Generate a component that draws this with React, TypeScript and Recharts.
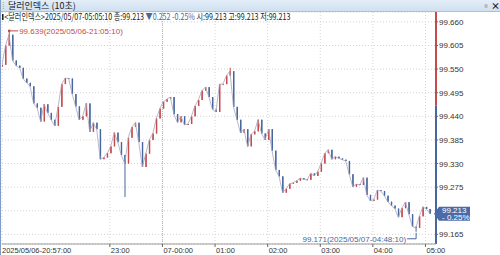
import { ComposedChart, Bar, Line, XAxis, YAxis, CartesianGrid, ReferenceLine, ReferenceDot } from 'recharts';

// 4-minute buckets starting 2025/05/06 20:57, closing prices
const closes = [
  99.560, 99.605, 99.630, 99.570, 99.558, 99.553, 99.528, 99.518, 99.510, 99.470,
  99.460, 99.428, 99.468, 99.448, 99.432, 99.418, 99.462, 99.515, 99.529, 99.528,
  99.492, 99.463, 99.432, 99.440, 99.470, 99.404, 99.425, 99.410, 99.340, 99.344,
  99.354, 99.370, 99.402, 99.380, 99.350, 99.330, 99.390, 99.415, 99.425, 99.380,
  99.322, 99.353, 99.385, 99.400, 99.435, 99.458, 99.474, 99.480, 99.485, 99.445,
  99.426, 99.440, 99.420, 99.422, 99.440, 99.464, 99.478, 99.500, 99.508, 99.485,
  99.456, 99.450, 99.515, 99.515, 99.535, 99.545, 99.462, 99.432, 99.401, 99.410,
  99.370, 99.398, 99.405, 99.432, 99.400, 99.385, 99.410, 99.360, 99.315, 99.300,
  99.262, 99.271, 99.283, 99.285, 99.290, 99.296, 99.293, 99.292, 99.307, 99.301,
  99.311, 99.330, 99.354, 99.362, 99.340, 99.346, 99.342, 99.339, 99.336, 99.305,
  99.276, 99.282, 99.280, 99.297, 99.257, 99.243, 99.246, 99.268, 99.266, 99.255,
  99.241, 99.232, 99.225, 99.205, 99.226, 99.240, 99.212, 99.183, 99.180, 99.207,
  99.229, 99.224, 99.213,
];
const firstOpen = 99.556;
const wickHighs: [number, number][] = [[2, 99.639], [65, 99.553]];
const wickLows: [number, number][] = [[35, 99.252], [118, 99.171]];

const priceTicks = [99.165, 99.22, 99.275, 99.33, 99.385, 99.44, 99.495, 99.55, 99.605, 99.66];
const timeTicks = [0, 123, 183, 243, 303, 363, 423, 483];
const timeLabels = ['2025/05/06-20:57:00', '23:00', '07-00:00', '01:00', '02:00', '03:00', '04:00', '05:00'];

const prevClose = 99.465;
const lastPrice = 99.213;
const lastChangePct = '- 0.25%';
const highMark = { m: 8.17, value: 99.639, label: '99.639(2025/05/06-21:05:10)' };
const lowMark = { m: 471.17, value: 99.171, label: '99.171(2025/05/07-04:48:10)' };

const BUCKET = 4;
const X_MAX = 495;
const Y_MIN = 99.1425;
const Y_MAX = 99.683;

const RED = '#c64a4a';
const BLUE = '#46679f';
const NARROW = '"Liberation Sans Narrow", "Liberation Sans", Arial, sans-serif';
const KR = '"Liberation Sans Narrow", "Noto Sans CJK KR", sans-serif';

const candles = closes.map((close, i) => {
  const open = i === 0 ? firstOpen : closes[i - 1];
  let hi = Math.max(open, close);
  let lo = Math.min(open, close);
  wickHighs.forEach(([k, v]) => { if (k === i) hi = v; });
  wickLows.forEach(([k, v]) => { if (k === i) lo = v; });
  return { m: i * BUCKET, open, close, range: [lo, hi] };
});

function Candle(props: any) {
  const { x, y, width, height, payload } = props;
  if (x == null || y == null) return null;
  const [lo, hi] = payload.range;
  const top = Math.min(y, y + height);
  const h = Math.abs(height);
  const toPx = (v: number) => (hi === lo ? top : top + ((hi - v) / (hi - lo)) * h);
  const color = payload.close >= payload.open ? RED : BLUE;
  const bTop = toPx(Math.max(payload.open, payload.close));
  const bBot = toPx(Math.min(payload.open, payload.close));
  const cx = x + width / 2;
  return (
    <g>
      <line x1={cx} x2={cx} y1={top} y2={top + h} stroke={color} strokeWidth={1} />
      <rect x={cx - 0.7} y={bTop} width={1.4} height={Math.max(1, bBot - bTop)} fill={color} />
    </g>
  );
}

function TimeTick({ x, y, payload }: any) {
  const idx = timeTicks.indexOf(payload.value);
  return (
    <g>
      {idx > 0 && <line x1={x} x2={x} y1={y} y2={y + 3} stroke="#666" />}
      <text x={x + (idx > 0 ? 1 : 0)} y={y + 9} fontSize={7.5} fill="#333" fontFamily={NARROW} textAnchor="start">
        {timeLabels[idx]}
      </text>
    </g>
  );
}

function PriceTick({ x, y, payload }: any) {
  if (payload.value === 99.22) return null;
  return (
    <g>
      <line x1={x} x2={x + 2} y1={y} y2={y} stroke="#666" />
      <text x={x + 3} y={y + 3} fontSize={8} fill="#333" fontFamily={NARROW} textAnchor="start">
        {payload.value.toFixed(3)}
      </text>
    </g>
  );
}

function HighLabel({ cx, cy }: any) {
  return (
    <g>
      <circle cx={cx} cy={cy} r={1.3} fill={RED} />
      <line x1={cx} x2={cx + 9} y1={cy} y2={cy} stroke={RED} />
      <text x={cx + 10} y={cy + 3} fontSize={8} fill={RED} fontFamily={NARROW}>{highMark.label}</text>
    </g>
  );
}

function LowLabel({ cx, cy }: any) {
  return (
    <g>
      <polyline points={`${cx - 8},${cy + 7} ${cx + 1},${cy + 7} ${cx + 1},${cy + 1}`} fill="none" stroke={BLUE} />
      <text x={cx - 9} y={cy + 10} fontSize={8} fill={BLUE} fontFamily={NARROW} textAnchor="end">{lowMark.label}</text>
    </g>
  );
}

function PriceBadge({ cx, cy }: any) {
  const l = cx - 2;
  return (
    <g>
      <polygon points={`${l},${cy} ${l + 5},${cy - 7} ${l + 36},${cy - 7} ${l + 36},${cy + 7} ${l + 5},${cy + 7}`} fill="#4a6ba7" />
      <text x={l + 8} y={cy - 1} fontSize={8} fill="#fff" fontFamily={NARROW}>{lastPrice.toFixed(3)}</text>
      <text x={l + 8} y={cy + 6} fontSize={8} fill="#fff" fontFamily={NARROW}>{lastChangePct}</text>
    </g>
  );
}

export default function App() {
  return (
    <div style={{ position: 'fixed', left: 0, top: 0, width: 500, height: 255, background: '#fff', overflow: 'hidden' }}>
      <ComposedChart width={500} height={255} data={candles} margin={{ top: 12, right: 32, bottom: 0, left: 2 }}>
        <CartesianGrid stroke="#d4d4d4" strokeDasharray="1 2" />
        <XAxis
          type="number"
          dataKey="m"
          domain={[0, X_MAX]}
          ticks={timeTicks}
          tick={<TimeTick />}
          tickLine={false}
          tickSize={0}
          tickMargin={0}
          axisLine={{ stroke: '#9a9a9a' }}
          height={11}
          interval={0}
          allowDataOverflow
        />
        <YAxis
          orientation="right"
          domain={[Y_MIN, Y_MAX]}
          ticks={priceTicks}
          tick={<PriceTick />}
          tickLine={false}
          tickSize={0}
          tickMargin={0}
          axisLine={false}
          width={32}
          interval={0}
          allowDataOverflow
        />
        <ReferenceLine x={183} stroke="#b8b8b8" strokeDasharray="1 1" />
        <Line dataKey="close" stroke="#aaa3bc" strokeWidth={0.8} dot={false} isAnimationActive={false} />
        <Bar dataKey="range" barSize={2} shape={<Candle />} isAnimationActive={false} />
        <ReferenceLine segment={[{ x: X_MAX, y: Y_MIN }, { x: X_MAX, y: prevClose }]} stroke={BLUE} strokeWidth={2} />
        <ReferenceLine segment={[{ x: X_MAX, y: prevClose }, { x: X_MAX, y: Y_MAX }]} stroke={RED} strokeWidth={2} />
        <ReferenceDot x={highMark.m} y={highMark.value} shape={<HighLabel />} />
        <ReferenceDot x={lowMark.m} y={lowMark.value} shape={<LowLabel />} />
        <ReferenceDot x={X_MAX} y={lastPrice} shape={<PriceBadge />} ifOverflow="visible" />
      </ComposedChart>

      <div style={{ position: 'absolute', left: 0, top: 0, width: 500, height: 11, background: 'linear-gradient(#e4eef8, #cfe0f1)', borderBottom: '1px solid #a9c1dc', fontFamily: KR, fontSize: 9, lineHeight: '11px', color: '#222' }}>
        <span style={{ position: 'absolute', left: 2, top: 0, color: '#8aa' }}>⁞</span>
        <span style={{ position: 'absolute', left: 8, top: 0 }}>달러인덱스 (10초)</span>
        <span style={{ position: 'absolute', left: 482, top: 0, fontWeight: 'bold', fontSize: 8 }}>▫</span>
        <span style={{ position: 'absolute', left: 491, top: 0, fontWeight: 'bold' }}>×</span>
      </div>
      <div style={{ position: 'absolute', left: 2, top: 12, fontFamily: KR, fontSize: 9, lineHeight: '9px', color: '#222', whiteSpace: 'nowrap', transform: 'scaleX(0.79)', transformOrigin: 'left top' }}>
        <span style={{ display: 'inline-block', width: 2, height: 6, background: '#222', marginRight: 1 }} />
        {'<달러인덱스>2025/05/07-05:05:10 종:99.213 '}
        <span style={{ color: BLUE }}>▼0.252 -0.25%</span>
        {' 시:99.213 고:99.213 저:99.213'}
      </div>
      <div style={{ position: 'absolute', left: 0, top: 0, width: 1, height: 255, background: '#7f9cc8' }} />
    </div>
  );
}
